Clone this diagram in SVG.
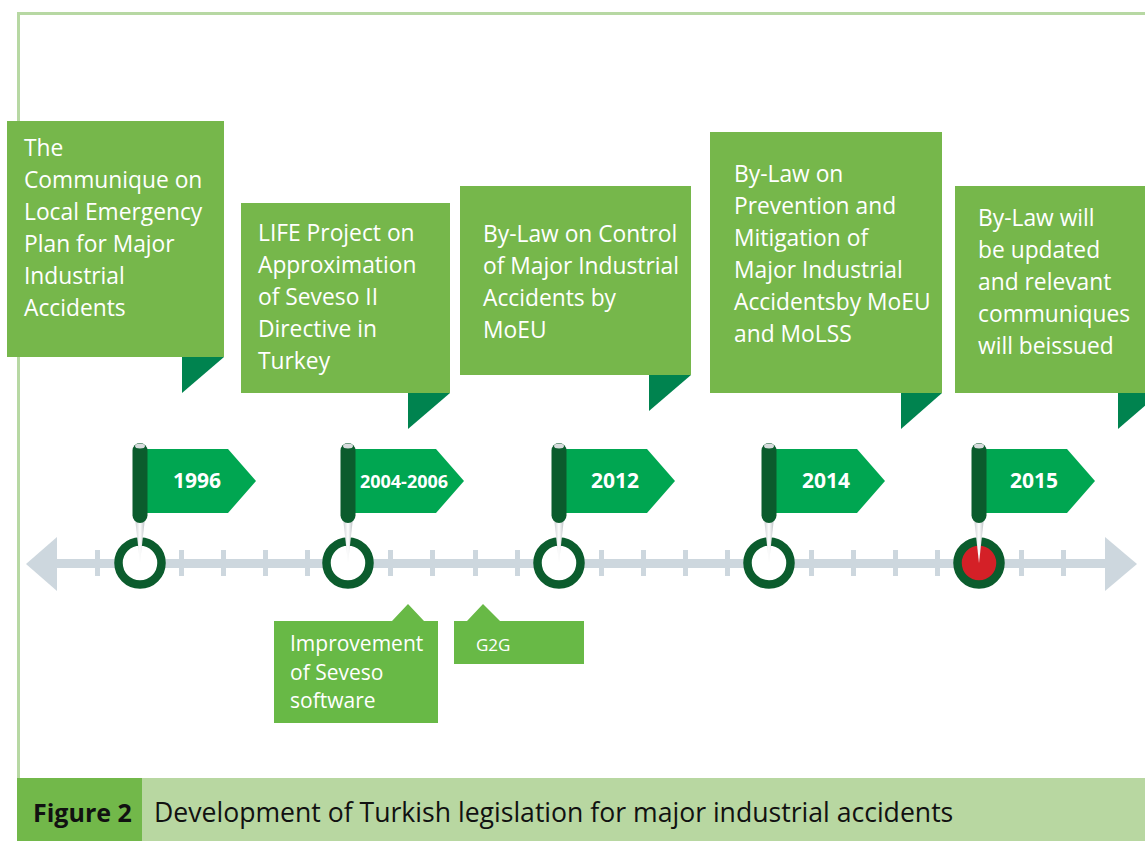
<svg xmlns="http://www.w3.org/2000/svg" width="1145" height="841" viewBox="0 0 1145 841">
<defs>
<style>
.box{fill:#76b74b}
.fold{fill:#00834f}
.btxt{font-family:"Open Sans","Liberation Sans",sans-serif;font-size:22.8px;fill:#ffffff}
.stxt{font-family:"Open Sans","Liberation Sans",sans-serif;font-size:21px;fill:#ffffff}
.sbox{fill:#68b946}
.pen{fill:#00a651}
.pole{fill:#0b5c2d}
.year{font-family:"Open Sans","Liberation Sans",sans-serif;font-size:21px;font-weight:bold;fill:#ffffff;text-anchor:middle}
.ring{fill:#ffffff;stroke:#0b5c2d;stroke-width:8.5}
.tick{fill:#cdd7de}
.cap{font-family:"Open Sans","Liberation Sans",sans-serif;font-size:26.6px;fill:#111111}
</style>
<linearGradient id="needle" x1="0" y1="0" x2="1" y2="0">
<stop offset="0" stop-color="#c9cdd0"/>
<stop offset="0.5" stop-color="#ffffff"/>
<stop offset="1" stop-color="#b9bec2"/>
</linearGradient>
<g id="flag">
<polygon class="pen" points="7,449 88,449 116,481 88,513 7,513"/>
<polygon fill="url(#needle)" points="-5,518 5,518 0,563"/>
<rect class="pole" x="-7.5" y="443" width="15" height="80" rx="7.5"/>
<ellipse cx="0" cy="446" rx="5" ry="2.5" fill="#d9dcde"/>
</g>
</defs>
<rect width="1145" height="841" fill="#ffffff"/>
<path d="M18.5 778 V13.5 H1145" fill="none" stroke="#b7d8a3" stroke-width="3"/>

<g id="timeline">
<rect class="tick" x="50" y="559" width="1060" height="9"/>
<polygon class="tick" points="57,537 57,591 26,564"/>
<polygon class="tick" points="1105,537 1105,591 1137,564"/>
<g class="tick">
<rect x="95" y="550" width="5" height="26"/>
<rect x="179" y="550" width="5" height="26"/>
<rect x="221" y="550" width="5" height="26"/>
<rect x="263" y="550" width="5" height="26"/>
<rect x="305" y="550" width="5" height="26"/>
<rect x="388" y="550" width="5" height="26"/>
<rect x="430" y="550" width="5" height="26"/>
<rect x="473" y="550" width="5" height="26"/>
<rect x="515" y="550" width="5" height="26"/>
<rect x="599" y="550" width="5" height="26"/>
<rect x="641" y="550" width="5" height="26"/>
<rect x="683" y="550" width="5" height="26"/>
<rect x="725" y="550" width="5" height="26"/>
<rect x="809" y="550" width="5" height="26"/>
<rect x="851" y="550" width="5" height="26"/>
<rect x="893" y="550" width="5" height="26"/>
<rect x="935" y="550" width="5" height="26"/>
<rect x="1019" y="550" width="5" height="26"/>
<rect x="1061" y="550" width="5" height="26"/>
</g>
</g>

<g id="m1996">
<circle class="ring" cx="140" cy="563" r="21.5"/>
<use href="#flag" x="140"/>
<text class="year" x="197" y="488">1996</text>
</g>
<g id="m2004">
<circle class="ring" cx="348" cy="563" r="21.5"/>
<use href="#flag" x="348"/>
<text class="year" x="404" y="488" style="font-size:18px">2004-2006</text>
</g>
<g id="m2012">
<circle class="ring" cx="559" cy="563" r="21.5"/>
<use href="#flag" x="559"/>
<text class="year" x="615" y="488">2012</text>
</g>
<g id="m2014">
<circle class="ring" cx="769" cy="563" r="21.5"/>
<use href="#flag" x="769"/>
<text class="year" x="826" y="488">2014</text>
</g>
<g id="m2015">
<circle class="ring" cx="979" cy="563" r="21.5" style="fill:#d42027"/>
<use href="#flag" x="979"/>
<text class="year" x="1034" y="488">2015</text>
</g>

<g id="c1">
<rect class="box" x="7" y="121" width="217" height="236"/>
<polygon class="fold" points="182,357 224,357 182,393"/>
<text class="btxt" x="24"><tspan x="24" y="156">The</tspan><tspan x="24" y="188">Communique on</tspan><tspan x="24" y="220">Local Emergency</tspan><tspan x="24" y="252">Plan for Major</tspan><tspan x="24" y="284">Industrial</tspan><tspan x="24" y="316">Accidents</tspan></text>
</g>
<g id="c2">
<rect class="box" x="241" y="203" width="209" height="190"/>
<polygon class="fold" points="408,393 450,393 408,429"/>
<text class="btxt"><tspan x="258" y="241">LIFE Project on</tspan><tspan x="258" y="273">Approximation</tspan><tspan x="258" y="305">of Seveso II</tspan><tspan x="258" y="337">Directive in</tspan><tspan x="258" y="369">Turkey</tspan></text>
</g>
<g id="c3">
<rect class="box" x="460" y="186" width="231" height="189"/>
<polygon class="fold" points="649,375 691,375 649,411"/>
<text class="btxt"><tspan x="483" y="242">By-Law on Control</tspan><tspan x="483" y="274">of Major Industrial</tspan><tspan x="483" y="306">Accidents by</tspan><tspan x="483" y="338">MoEU</tspan></text>
</g>
<g id="c4">
<rect class="box" x="710" y="132" width="232" height="261"/>
<polygon class="fold" points="901,393 942,393 901,429"/>
<text class="btxt"><tspan x="734" y="182">By-Law on</tspan><tspan x="734" y="214">Prevention and</tspan><tspan x="734" y="246">Mitigation of</tspan><tspan x="734" y="278">Major Industrial</tspan><tspan x="734" y="310">Accidentsby MoEU</tspan><tspan x="734" y="342">and MoLSS</tspan></text>
</g>
<g id="c5">
<rect class="box" x="955" y="186" width="195" height="207"/>
<polygon class="fold" points="1118,393 1160,393 1118,429"/>
<text class="btxt"><tspan x="978" y="226">By-Law will</tspan><tspan x="978" y="258">be updated</tspan><tspan x="978" y="290">and relevant</tspan><tspan x="978" y="322">communiques</tspan><tspan x="978" y="354">will beissued</tspan></text>
</g>

<g id="b1">
<polygon class="sbox" points="274,621 392,621 408,604 424,621 438,621 438,723 274,723"/>
<text class="stxt"><tspan x="290" y="651">Improvement</tspan><tspan x="290" y="680">of Seveso</tspan><tspan x="290" y="708">software</tspan></text>
</g>
<g id="b2">
<polygon class="sbox" points="454,621 467,621 483,604 500,621 584,621 584,664 454,664"/>
<text class="stxt" x="476" y="651" style="font-size:17px">G2G</text>
</g>

<g id="caption">
<rect x="17" y="778" width="125" height="63" fill="#72b84a"/>
<rect x="142" y="778" width="1003" height="63" fill="#b8d7a1"/>
<text class="cap" x="33" y="822" style="font-weight:bold;font-size:25px">Figure 2</text>
<text class="cap" x="154" y="822">Development of Turkish legislation for major industrial accidents</text>
</g>
</svg>
